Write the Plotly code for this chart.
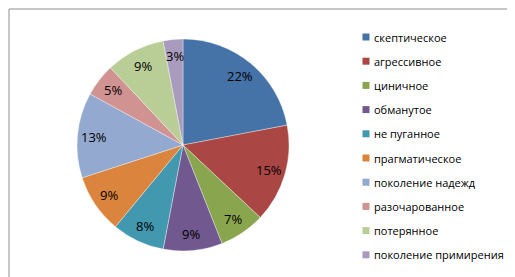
import math
import plotly.graph_objects as go

labels = ["скептическое", "агрессивное", "циничное", "обманутое", "не пуганное",
          "прагматическое", "поколение надежд", "разочарованное", "потерянное",
          "поколение примирения"]
values = [22, 15, 7, 9, 8, 9, 13, 5, 9, 3]
colors = ["#4572A7", "#AA4643", "#89A54E", "#71588F", "#4198AF",
          "#DB843D", "#93A9CF", "#D19392", "#B9CD96", "#A99BBD"]

W, H = 515, 277
cx, cy, r = 175, 137, 106

fig = go.Figure(go.Pie(
    labels=labels, values=values, sort=False, direction="clockwise", rotation=0,
    marker=dict(colors=colors, line=dict(color="rgba(255,255,255,0.6)", width=0.6)),
    textinfo="none",
    domain=dict(x=[(cx - r) / W, (cx + r) / W], y=[(H - cy - r) / H, (H - cy + r) / H]),
    showlegend=False, hoverinfo="label+percent",
))

shapes = []
annotations = []
# outer chart border with slight shadow
shapes.append(dict(type="rect", xref="paper", yref="paper",
                   x0=3 / W, x1=514 / W, y0=1 - 276 / H, y1=1 - 3 / H,
                   line=dict(color="#d0d0d0", width=1), fillcolor="rgba(0,0,0,0)", layer="below"))
shapes.append(dict(type="rect", xref="paper", yref="paper",
                   x0=1 / W, x1=512 / W, y0=1 - 274 / H, y1=1 - 1 / H,
                   line=dict(color="#8c8c8c", width=1), fillcolor="white", layer="below"))

# percentage labels placed along each slice's bisector (Excel style)
total = sum(values)
cum = 0
d = 0.84 * r
for v in values:
    th = 2 * math.pi * (cum + v / 2) / total
    cum += v
    px = cx + d * math.sin(th)
    py = cy - d * math.cos(th)
    annotations.append(dict(xref="paper", yref="paper", x=px / W, y=1 - py / H,
                            xanchor="center", yanchor="middle", showarrow=False,
                            text=f"{round(100 * v / total)}%",
                            font=dict(family="Open Sans", size=13, color="#000000")))

leg_x, leg_y0, leg_dy, sq = 358, 29, 24.2, 7
for i, (lab, col) in enumerate(zip(labels, colors)):
    y = leg_y0 + i * leg_dy
    shapes.append(dict(type="rect", xref="paper", yref="paper",
                       x0=(leg_x - sq / 2) / W, x1=(leg_x + sq / 2) / W,
                       y0=1 - (y + sq / 2) / H, y1=1 - (y - sq / 2) / H,
                       line=dict(width=0), fillcolor=col))
    annotations.append(dict(xref="paper", yref="paper", x=364 / W, y=1 - y / H,
                            xanchor="left", yanchor="middle", showarrow=False,
                            text=lab, font=dict(family="Open Sans", size=11, color="#000000")))

fig.update_layout(width=W, height=H, margin=dict(l=0, r=0, t=0, b=0),
                  paper_bgcolor="white", plot_bgcolor="white",
                  shapes=shapes, annotations=annotations)
fig.write_html("out.html")
